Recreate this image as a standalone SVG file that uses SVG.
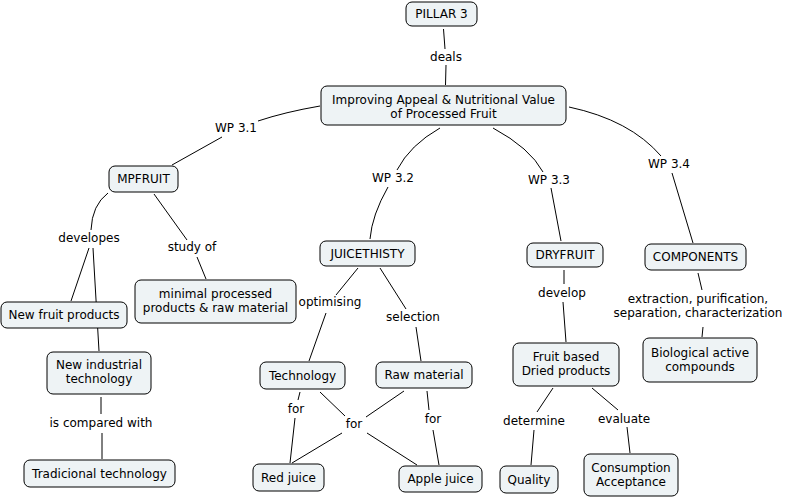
<svg xmlns="http://www.w3.org/2000/svg" width="791" height="497" viewBox="0 0 791 497">
<style>
.n rect{fill:#eef3f5;stroke:#000;stroke-width:1}
text{font-family:"DejaVu Sans",Verdana,sans-serif;font-size:12px;fill:#000;text-anchor:middle}
.c path,.c line{fill:none;stroke:#000;stroke-width:1}
</style>
<rect width="791" height="497" fill="#fff"/>
<g id="connectors" class="c">
<line x1="443.5" y1="29" x2="445" y2="49"/>
<line x1="446" y1="65" x2="445.5" y2="85"/>
<path d="M320,106 Q285,112 258,121"/>
<line x1="222" y1="137" x2="172" y2="165"/>
<path d="M440,128 Q410,145 397,170"/>
<path d="M388,187 Q372,215 370,239"/>
<path d="M493,128 Q530,148 543,172"/>
<line x1="551" y1="188" x2="561" y2="241"/>
<path d="M569,107 Q630,120 661,156"/>
<line x1="672" y1="173" x2="693" y2="243"/>
<path d="M108,193 Q92,205 91,230"/>
<line x1="89" y1="248" x2="71" y2="301"/>
<line x1="93" y1="248" x2="99" y2="351"/>
<line x1="154" y1="194" x2="187" y2="240"/>
<line x1="197" y1="257" x2="206" y2="279"/>
<line x1="101" y1="397" x2="101" y2="414"/>
<line x1="102" y1="433" x2="102" y2="459"/>
<line x1="358" y1="268" x2="336" y2="295"/>
<line x1="326" y1="313" x2="309" y2="361"/>
<line x1="380" y1="268" x2="406" y2="309"/>
<line x1="416" y1="327" x2="421" y2="361"/>
<line x1="300" y1="392" x2="298" y2="400"/>
<line x1="295" y1="418" x2="290" y2="463"/>
<line x1="320" y1="392" x2="345" y2="416"/>
<line x1="404" y1="391" x2="366" y2="417"/>
<line x1="342" y1="433" x2="292" y2="463"/>
<line x1="367" y1="433" x2="417" y2="465"/>
<line x1="427" y1="391" x2="429" y2="410"/>
<line x1="433" y1="430" x2="439" y2="465"/>
<line x1="564" y1="270" x2="564" y2="284"/>
<line x1="563" y1="302" x2="566" y2="342"/>
<line x1="698" y1="273" x2="702" y2="290"/>
<line x1="703" y1="327" x2="702" y2="337"/>
<line x1="553" y1="388" x2="537" y2="412"/>
<line x1="534" y1="430" x2="531" y2="465"/>
<line x1="592" y1="388" x2="618" y2="410"/>
<line x1="627" y1="427" x2="630" y2="453"/>
<text x="446" y="61">deals</text>
<text x="236" y="132">WP 3.1</text>
<text x="393" y="182">WP 3.2</text>
<text x="549" y="184">WP 3.3</text>
<text x="669" y="168">WP 3.4</text>
<text x="89" y="242">developes</text>
<text x="192" y="251">study of</text>
<text x="101" y="427">is compared with</text>
<text x="330" y="306">optimising</text>
<text x="413" y="321">selection</text>
<text x="296" y="413">for</text>
<text x="354" y="428">for</text>
<text x="433" y="423">for</text>
<text x="562" y="297">develop</text>
<text x="698" y="303">extraction, purification,</text>
<text x="698" y="317">separation, characterization</text>
<text x="534" y="425">determine</text>
<text x="624" y="423">evaluate</text>
</g>
<g id="pillar3" class="n"><rect x="406" y="2" width="71" height="24" rx="6"/><text x="441.5" y="18">PILLAR 3</text></g>
<g id="improving" class="n"><rect x="321" y="86" width="245" height="39" rx="6"/><text x="443.5" y="103.5">Improving Appeal &amp; Nutritional Value</text><text x="443.5" y="117.5">of Processed Fruit</text></g>
<g id="mpfruit" class="n"><rect x="109" y="166" width="69" height="26" rx="6"/><text x="143.5" y="183">MPFRUIT</text></g>
<g id="juicethisty" class="n"><rect x="320" y="241" width="95" height="25" rx="6"/><text x="367.5" y="257.5">JUICETHISTY</text></g>
<g id="dryfruit" class="n"><rect x="527" y="243" width="76" height="24" rx="6"/><text x="565" y="259">DRYFRUIT</text></g>
<g id="components" class="n"><rect x="645" y="244" width="101" height="26" rx="6"/><text x="695.5" y="261">COMPONENTS</text></g>
<g id="newfruit" class="n"><rect x="1" y="302" width="126" height="26" rx="6"/><text x="64" y="319">New fruit products</text></g>
<g id="minimal" class="n"><rect x="135" y="280" width="161" height="43" rx="6"/><text x="215.5" y="298">minimal processed</text><text x="215.5" y="312">products &amp; raw material</text></g>
<g id="newindustrial" class="n"><rect x="47" y="352" width="104" height="42" rx="6"/><text x="99" y="369">New industrial</text><text x="99" y="383">technology</text></g>
<g id="tradicional" class="n"><rect x="24" y="460" width="151" height="27" rx="6"/><text x="99.5" y="477.5">Tradicional technology</text></g>
<g id="technology" class="n"><rect x="260" y="362" width="85" height="27" rx="6"/><text x="302.5" y="379.5">Technology</text></g>
<g id="rawmaterial" class="n"><rect x="376" y="362" width="96" height="26" rx="6"/><text x="424" y="379">Raw material</text></g>
<g id="redjuice" class="n"><rect x="253" y="464" width="71" height="27" rx="6"/><text x="288.5" y="481.5">Red juice</text></g>
<g id="applejuice" class="n"><rect x="399" y="466" width="83" height="26" rx="6"/><text x="440.5" y="483">Apple juice</text></g>
<g id="fruitbased" class="n"><rect x="513" y="343" width="106" height="43" rx="6"/><text x="566" y="361">Fruit based</text><text x="566" y="375">Dried products</text></g>
<g id="biological" class="n"><rect x="643" y="338" width="114" height="44" rx="6"/><text x="700" y="356.5">Biological active</text><text x="700" y="370.5">compounds</text></g>
<g id="quality" class="n"><rect x="500" y="466" width="58" height="27" rx="6"/><text x="529" y="483.5">Quality</text></g>
<g id="consumption" class="n"><rect x="584" y="454" width="94" height="42" rx="6"/><text x="631" y="471.5">Consumption</text><text x="631" y="485.5">Acceptance</text></g>
</svg>
